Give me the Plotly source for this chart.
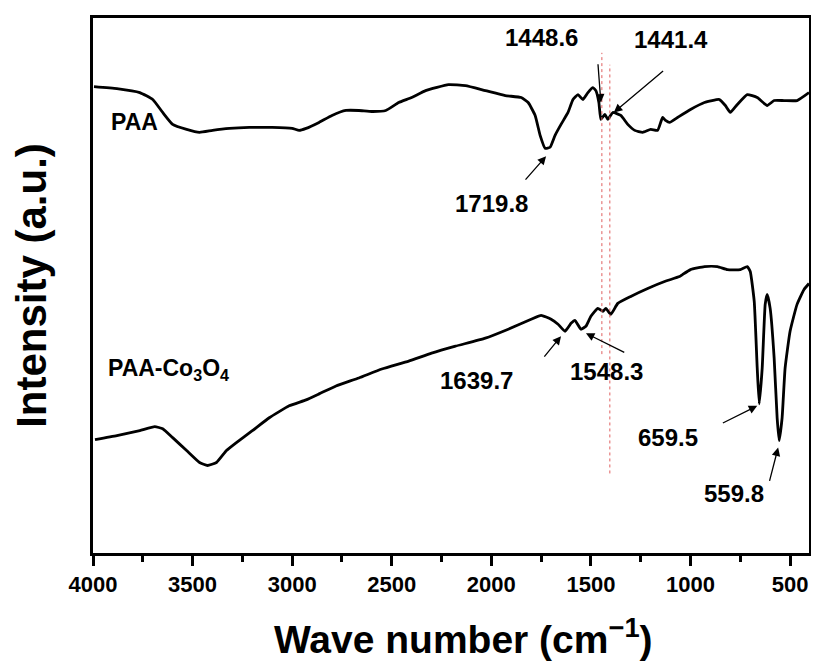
import plotly.graph_objects as go

# ---- data (wavenumber in cm^-1, intensity in a.u.) ----
paa_wn = [3995, 3880, 3765, 3700, 3650, 3600, 3530, 3465, 3400, 3315, 3215, 3100, 3000, 2965, 2930,
          2865, 2800, 2730, 2665, 2600, 2530, 2465, 2400, 2330, 2215, 2130, 2030, 1930, 1850, 1815,
          1780, 1755, 1730, 1705, 1680, 1650, 1615, 1590, 1565, 1540, 1515, 1490, 1475, 1460, 1450,
          1430, 1415, 1390, 1350, 1315, 1280, 1240, 1200, 1165, 1140, 1125, 1105, 1065, 1000, 930,
          855, 825, 800, 765, 715, 665, 615, 580, 530, 465, 405]
paa_int = [469, 467, 463, 456, 443, 431, 426, 423, 425, 427, 428, 428, 427, 425, 427,
           433, 440, 445, 445, 444, 445, 453, 458, 465, 471, 470, 465, 460, 458, 453,
           440, 420, 407, 408, 420, 431, 443, 456, 461, 456, 463, 468, 465, 453, 436,
           441, 436, 443, 440, 431, 425, 423, 426, 425, 438, 435, 433, 438, 446, 453,
           456, 450, 443, 451, 461, 458, 450, 455, 455, 455, 463]

co_wn = [3990, 3880, 3765, 3690, 3650, 3600, 3530, 3465, 3425, 3380, 3330, 3280, 3200, 3115, 3015,
         2930, 2865, 2780, 2665, 2550, 2415, 2300, 2180, 2030, 1915, 1800, 1750, 1700, 1665, 1630,
         1600, 1580, 1550, 1525, 1500, 1465, 1440, 1425, 1400, 1365, 1300, 1215, 1130, 1055, 1040,
         1000, 930, 865, 815, 750, 715, 700, 680, 665, 655, 640, 625, 615, 600, 580,
         565, 555, 540, 525, 500, 465, 430, 405]
co_int = [114, 118, 123, 127, 125, 116, 103, 91, 88, 91, 103, 111, 123, 136, 148,
          154, 160, 168, 176, 185, 193, 201, 208, 216, 225, 235, 239, 235, 230, 223,
          231, 234, 225, 228, 238, 246, 243, 246, 240, 251, 258, 266, 273, 278, 280,
          285, 288, 288, 285, 285, 288, 283, 253, 186, 150, 186, 250, 260, 246, 196,
          136, 113, 136, 186, 223, 250, 265, 271]

x_ticks = [4000, 3500, 3000, 2500, 2000, 1500, 1000, 500]
x_range = [4000, 405]
y_range = [0, 538]

# peak labels: text position, arrow tail, arrow head
peak_labels = ["1719.8", "1448.6", "1441.4", "1639.7", "1548.3", "659.5", "559.8"]
label_x = [2000, 1750, 1100, 2075, 1420, 1115, 780]
label_y = [351, 518, 516, 173, 183, 116, 60]
tail_x = [1835, 1465, 1130, 1740, 1325, 845, 605]
tail_y = [374, 493, 486, 196, 201, 130, 71]
head_x = [1725, 1450, 1385, 1650, 1525, 665, 560]
head_y = [399, 453, 443, 218, 221, 148, 106]

# reference (dotted) lines
ref_x = [1445, 1405]
ref_y0 = [200, 80]
ref_y1 = [503, 491]

sample_names = ["PAA", "PAA-Co<sub>3</sub>O<sub>4</sub>"]
sample_x = [3790, 3935]
sample_y = [433, 185]

FONT = "Liberation Sans, Arial, sans-serif"

fig = go.Figure()
fig.add_trace(go.Scatter(x=paa_wn, y=paa_int, mode="lines",
                         line=dict(color="black", width=2.8, shape="spline", smoothing=0.4),
                         showlegend=False))
fig.add_trace(go.Scatter(x=co_wn, y=co_int, mode="lines",
                         line=dict(color="black", width=2.8, shape="spline", smoothing=0.4),
                         showlegend=False))

for xv, y0, y1 in zip(ref_x, ref_y0, ref_y1):
    fig.add_shape(type="line", x0=xv, x1=xv, y0=y0, y1=y1, xref="x", yref="y",
                  line=dict(color="#e06060", width=1, dash="dot"))

for t, lx, ly, tx, ty, hx, hy in zip(peak_labels, label_x, label_y, tail_x, tail_y, head_x, head_y):
    fig.add_annotation(x=lx, y=ly, text=t, showarrow=False,
                       font=dict(family=FONT, size=24, color="black", weight="bold"))
    fig.add_annotation(x=hx, y=hy, ax=tx, ay=ty, axref="x", ayref="y", xref="x", yref="y",
                       text="", showarrow=True, arrowhead=2, arrowsize=1.3, arrowwidth=1.3,
                       arrowcolor="black", standoff=0, startstandoff=0)

fig.add_annotation(x=sample_x[0], y=sample_y[0], text=sample_names[0], showarrow=False,
                   font=dict(family=FONT, size=23, color="black", weight="bold"))
fig.add_annotation(x=sample_x[1], y=sample_y[1], text=sample_names[1], showarrow=False,
                   xanchor="left",
                   font=dict(family=FONT, size=23, color="black", weight="bold"))

# x-axis title (slightly right of the plot centre, as in the original)
fig.add_annotation(xref="paper", yref="paper", x=0.517, y=-0.156, xanchor="center", yanchor="middle",
                   text="Wave number (cm<sup>−1</sup>)", showarrow=False,
                   font=dict(family=FONT, size=39, color="black", weight="bold"))

# the page body adds an 8px offset, so the figure is sized/margined to compensate
fig.update_layout(
    width=811, height=656,
    margin=dict(l=85, r=7, t=7, b=111),
    paper_bgcolor="white", plot_bgcolor="white",
    font=dict(family=FONT, color="black"),
)
fig.update_xaxes(
    range=x_range, tickvals=x_ticks, ticktext=[str(v) for v in x_ticks],
    showline=True, linecolor="black", linewidth=3, mirror=True,
    ticks="outside", ticklen=10, tickwidth=2.5, tickcolor="black",
    minor=dict(dtick=250, tick0=0, ticks="outside", ticklen=6, tickwidth=2.5, tickcolor="black"),
    showgrid=False, zeroline=False,
    tickfont=dict(family=FONT, size=22, color="black", weight="bold"),
)
fig.update_yaxes(
    range=y_range, showticklabels=False, ticks="",
    showline=True, linecolor="black", linewidth=3, mirror=True,
    showgrid=False, zeroline=False,
    title=dict(text="Intensity (a.u.)", standoff=40,
               font=dict(family=FONT, size=42, color="black", weight="bold")),
)

fig.write_html("out.html")
